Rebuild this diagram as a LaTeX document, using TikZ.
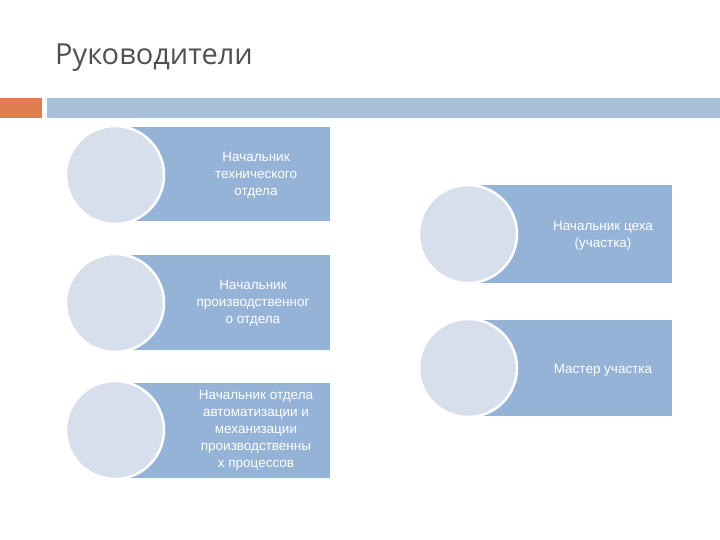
\documentclass[tikz,border=0pt]{standalone}
\usepackage{fontspec}
\setmainfont{Liberation Sans}
\newfontfamily\titlefont{Open Sans}
\definecolor{boxc}{HTML}{95B3D7}
\definecolor{circc}{HTML}{D6DFEB}
\definecolor{barc}{HTML}{A8C0D8}
\definecolor{orc}{HTML}{E07D4E}
\definecolor{titc}{HTML}{505050}
\tikzset{
 rbox/.style={fill=boxc,draw=none},
 circ/.style={circle,fill=circc,draw=white,line width=2.5pt,minimum size=98pt,inner sep=0pt},
 lbl/.style={text=white,align=center,font=\fontsize{13.5}{17}\selectfont,inner sep=0pt}
}
\begin{document}
\begin{tikzpicture}[x=1pt,y=-1pt]
\useasboundingbox (0,0) rectangle (720,540);
\node[anchor=west,text=titc,font=\titlefont\fontsize{29}{34}\selectfont,inner sep=0pt] (title) at (55,58) {Руководители};
\fill[orc] (0,98) rectangle (42,118);
\fill[barc] (47,98) rectangle (720,118);
% left column
\fill[rbox] (120,127) rectangle (330,221);
\node[circ] (c1) at (115,175) {};
\node[lbl] (t1) at (256,175) {Начальник\\технического\\отдела};
\fill[rbox] (120,255) rectangle (330,350);
\node[circ] (c2) at (115,303) {};
\node[lbl] (t2) at (253,303) {Начальник\\производственног\\о отдела};
\fill[rbox] (120,383) rectangle (330,478);
\node[circ] (c3) at (115,430) {};
\node[lbl] (t3) at (256,430) {Начальник отдела\\автоматизации и\\механизации\\производственны\\х процессов};
% right column
\fill[rbox] (468,185) rectangle (672,283);
\node[circ] (c4) at (468,234) {};
\node[lbl] (t4) at (603,236) {Начальник цеха\\(участка)};
\fill[rbox] (468,320) rectangle (672,416);
\node[circ] (c5) at (468,368) {};
\node[lbl] (t5) at (603,370) {Мастер участка};
\end{tikzpicture}
\end{document}
